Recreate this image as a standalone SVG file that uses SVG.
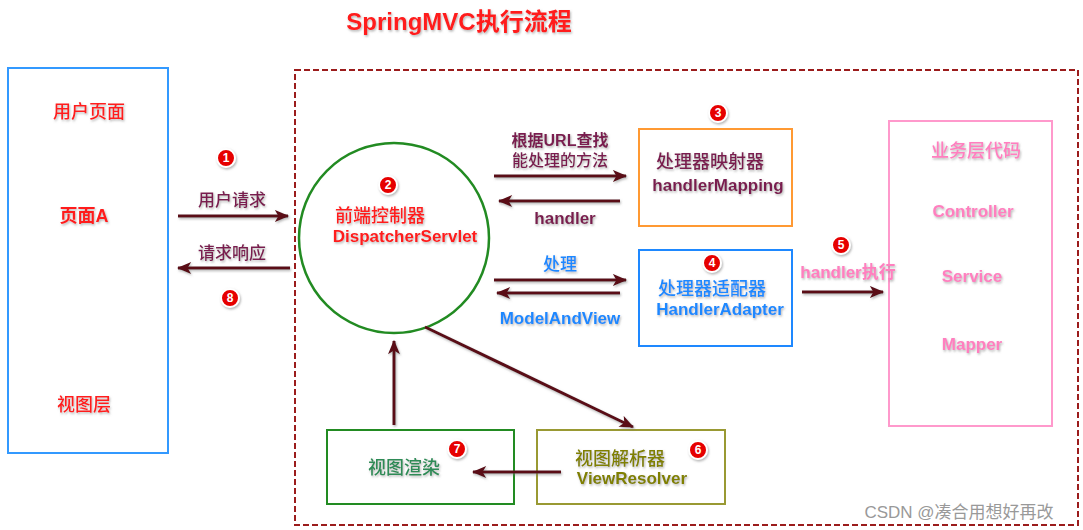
<svg xmlns="http://www.w3.org/2000/svg" width="1083" height="530" viewBox="0 0 1083 530">
<defs>
<style>
.t{font-family:"Liberation Sans","Noto Sans CJK SC",sans-serif;text-anchor:middle;filter:url(#sh)}
.b{font-weight:bold}
.cn{font-family:"Noto Sans CJK SC","Liberation Sans",sans-serif;font-weight:500}
.red{fill:#ff1a1a}
.pur{fill:#7a1f4f}
.blu{fill:#1e88ff}
.pnk{fill:#ff7fbf}
.grn{fill:#2e8b57}
.olv{fill:#808000}
.box{fill:none;stroke-width:2}
.conn{filter:url(#sha)}
.conn path{fill:none;stroke:#5a0a18;stroke-width:3;marker-end:url(#ah)}
.badge circle{fill:#e60000;stroke:#fff;stroke-width:2;filter:url(#sh)}
.badge text{font-family:"Liberation Sans",sans-serif;font-weight:bold;font-size:12px;fill:#fff;text-anchor:middle}
</style>
<filter id="sh" x="-20%" y="-40%" width="140%" height="180%">
<feDropShadow dx="1" dy="1.5" stdDeviation="1.2" flood-color="#777" flood-opacity="0.55"/>
</filter>
<filter id="sha" filterUnits="userSpaceOnUse" x="0" y="0" width="1083" height="530">
<feDropShadow dx="1" dy="1.5" stdDeviation="1.2" flood-color="#777" flood-opacity="0.55"/>
</filter>
<marker id="ah" viewBox="0 0 12 10" refX="11" refY="5" markerWidth="5" markerHeight="4" orient="auto" markerUnits="strokeWidth">
<path d="M0,0 L12,5 L0,10 L3,5 Z" fill="#5a0a18"/>
</marker>
</defs>
<rect width="1083" height="530" fill="#fff"/>

<text class="t b red" x="459" y="30" font-size="24">SpringMVC执行流程</text>

<rect x="295" y="70" width="783" height="455" fill="none" stroke="#9b1c1c" stroke-width="2" stroke-dasharray="6 3"/>

<g id="user-page">
<rect class="box" x="8" y="68" width="160" height="385" stroke="#3399ff"/>
<text class="t cn red" x="89" y="118" font-size="18">用户页面</text>
<text class="t b red" x="84" y="222" font-size="18">页面A</text>
<text class="t cn red" x="84" y="411" font-size="18">视图层</text>
</g>

<g id="dispatcher">
<circle cx="394" cy="238" r="95" fill="none" stroke="#228b22" stroke-width="2.5"/>
<text class="t cn red" x="380" y="222" font-size="18">前端控制器</text>
<text class="t b red" x="405" y="242" font-size="17">DispatcherServlet</text>
</g>

<g id="handler-mapping">
<rect class="box" x="639" y="129" width="153" height="97" stroke="#ff9933"/>
<text class="t cn pur" x="710" y="168" font-size="18">处理器映射器</text>
<text class="t b pur" x="718" y="191" font-size="17">handlerMapping</text>
</g>

<g id="handler-adapter">
<rect class="box" x="639" y="250" width="153" height="96" stroke="#1e88ff"/>
<text class="t cn blu" x="712" y="295" font-size="18">处理器适配器</text>
<text class="t b blu" x="720" y="315" font-size="17">HandlerAdapter</text>
</g>

<g id="business">
<rect class="box" x="889" y="121" width="163" height="305" stroke="#ff99cc"/>
<text class="t cn pnk" x="976" y="157" font-size="18">业务层代码</text>
<text class="t b pnk" x="973" y="217" font-size="17">Controller</text>
<text class="t b pnk" x="972" y="282" font-size="17">Service</text>
<text class="t b pnk" x="972" y="350" font-size="17">Mapper</text>
</g>

<g id="view-render">
<rect class="box" x="327" y="430" width="187" height="74" stroke="#228b22"/>
<text class="t cn grn" x="404" y="474" font-size="18">视图渲染</text>
</g>

<g id="view-resolver">
<rect class="box" x="537" y="430" width="188" height="74" stroke="#999933"/>
<text class="t cn olv" x="620" y="465" font-size="18">视图解析器</text>
<text class="t b olv" x="632" y="484" font-size="17">ViewResolver</text>
</g>

<g id="connectors" class="conn">
<path d="M178,216 L288,216"/>
<path d="M290,268 L178,268"/>
<path d="M494,176 L626,176"/>
<path d="M620,201 L499,201"/>
<path d="M494,280 L626,280"/>
<path d="M620,293 L497,293"/>
<path d="M802,292 L883,292"/>
<path d="M394,425 L394,341"/>
<path d="M425,327 L633,427"/>
<path d="M561,472 L473,472"/>
</g>

<g id="labels">
<text class="t cn pur" x="232" y="206" font-size="17">用户请求</text>
<text class="t cn pur" x="232" y="259" font-size="17">请求响应</text>
<text class="t b pur" x="560" y="146" font-size="16">根据URL查找</text>
<text class="t cn pur" x="560" y="166" font-size="16">能处理的方法</text>
<text class="t b pur" x="565" y="224" font-size="17">handler</text>
<text class="t cn blu" x="560" y="270" font-size="17">处理</text>
<text class="t b blu" x="560" y="324" font-size="17">ModelAndView</text>
<text class="t b pnk" x="848" y="278" font-size="17">handler执行</text>
</g>

<g id="badges" class="badge">
<circle cx="226" cy="158" r="9"/><text x="226" y="162">1</text>
<circle cx="388" cy="185" r="9"/><text x="388" y="189">2</text>
<circle cx="718" cy="113" r="9"/><text x="718" y="117">3</text>
<circle cx="712" cy="263" r="9"/><text x="712" y="267">4</text>
<circle cx="841" cy="245" r="9"/><text x="841" y="249">5</text>
<circle cx="698" cy="450" r="9"/><text x="698" y="454">6</text>
<circle cx="457" cy="449" r="9"/><text x="457" y="453">7</text>
<circle cx="230" cy="298" r="9"/><text x="230" y="302">8</text>
</g>

<text x="959" y="518" font-family="Liberation Sans,Noto Sans CJK SC,sans-serif" font-size="17" fill="#999" text-anchor="middle">CSDN @凑合用想好再改</text>
</svg>
